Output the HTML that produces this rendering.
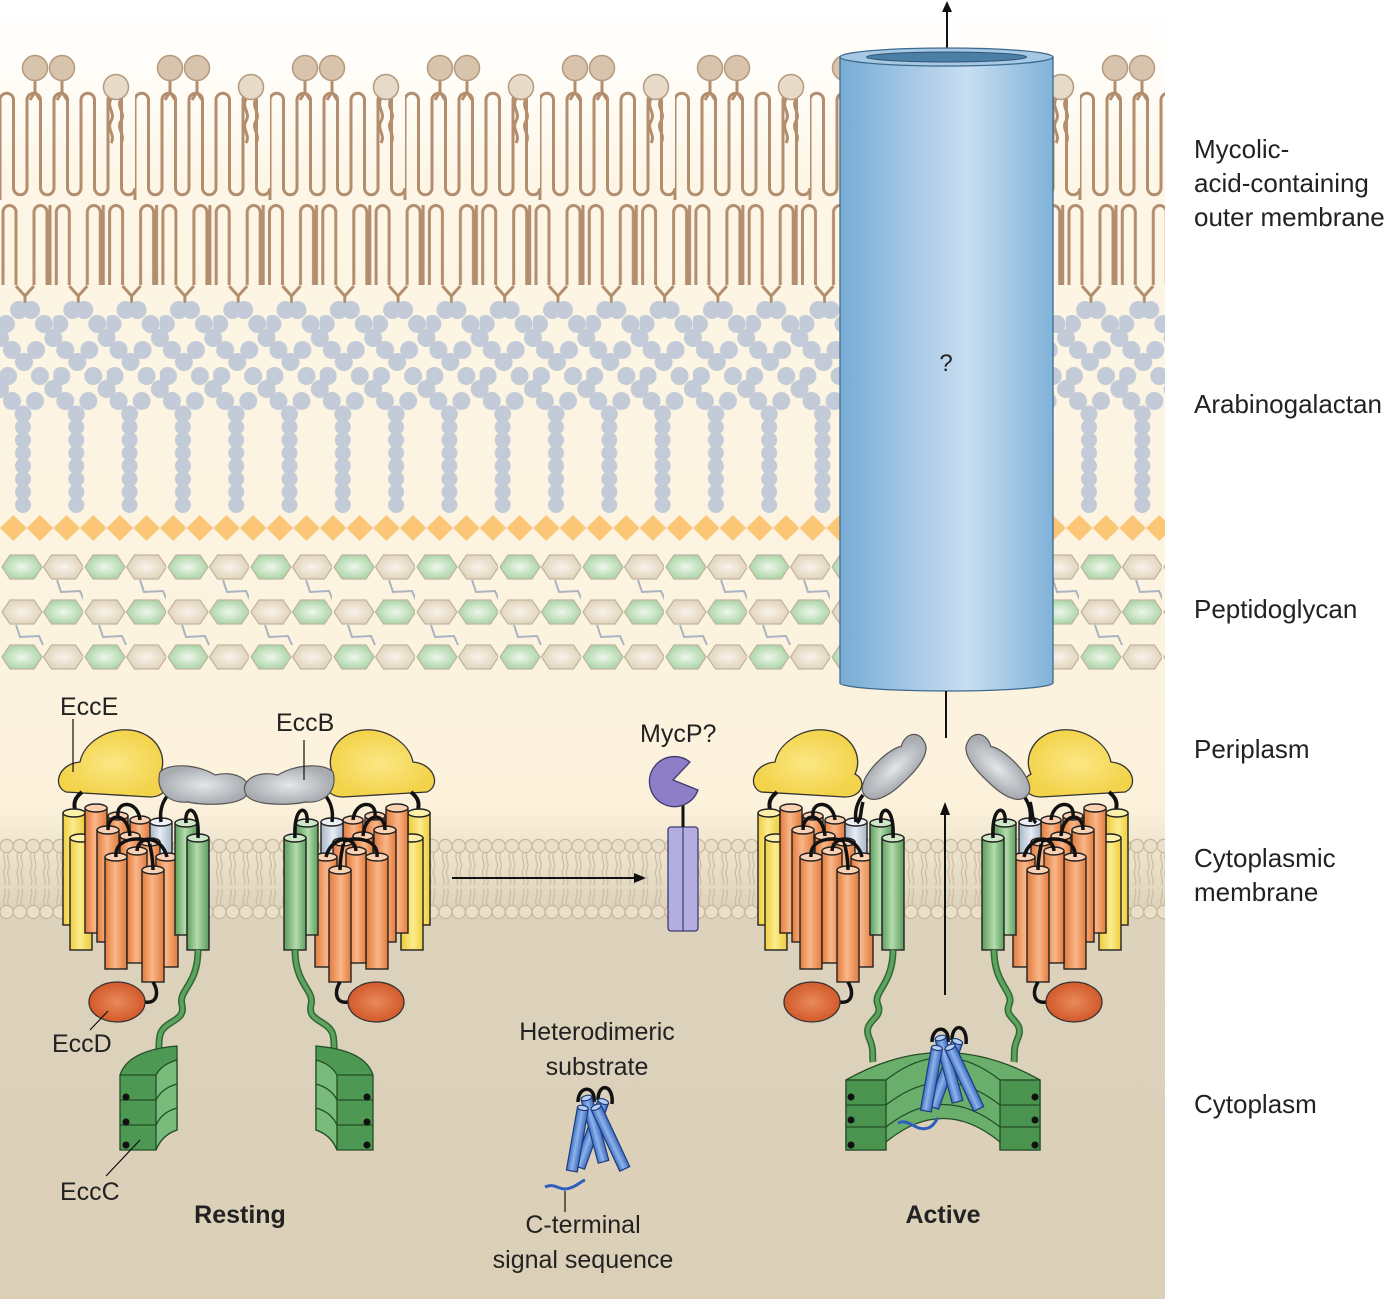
<!DOCTYPE html>
<html><head><meta charset="utf-8"><style>
html,body{margin:0;padding:0;background:#fff;}
svg{display:block;}
text{font-family:"Liberation Sans",sans-serif;}
</style></head><body>
<svg width="1395" height="1299" viewBox="0 0 1395 1299" xmlns="http://www.w3.org/2000/svg">
<defs>
<linearGradient id="bg" x1="0" y1="0" x2="0" y2="1">
<stop offset="0" stop-color="#ffffff"/><stop offset="0.06" stop-color="#fffdf8"/><stop offset="0.14" stop-color="#fdf6e6"/>
<stop offset="0.62" stop-color="#fcf2dc"/><stop offset="0.70" stop-color="#ddd2bc"/><stop offset="1" stop-color="#dbcfb7"/></linearGradient>
<linearGradient id="og" x1="0" x2="1"><stop offset="0" stop-color="#e47a3a"/><stop offset="0.45" stop-color="#f9b789"/><stop offset="1" stop-color="#e27b3d"/></linearGradient>
<linearGradient id="yg" x1="0" x2="1"><stop offset="0" stop-color="#efcd3c"/><stop offset="0.45" stop-color="#fcec8e"/><stop offset="1" stop-color="#eccb3a"/></linearGradient>
<linearGradient id="gg" x1="0" x2="1"><stop offset="0" stop-color="#5d9e5e"/><stop offset="0.45" stop-color="#b3dcac"/><stop offset="1" stop-color="#5c9b5c"/></linearGradient>
<linearGradient id="lb" x1="0" x2="1"><stop offset="0" stop-color="#a8b6c6"/><stop offset="0.45" stop-color="#e6edf4"/><stop offset="1" stop-color="#a8b6c6"/></linearGradient>
<linearGradient id="bl" x1="0" x2="1"><stop offset="0" stop-color="#3f6fc4"/><stop offset="0.45" stop-color="#8fb3ea"/><stop offset="1" stop-color="#3c6bbf"/></linearGradient>
<linearGradient id="cyl" x1="0" x2="1"><stop offset="0" stop-color="#78acd5"/><stop offset="0.6" stop-color="#c8def1"/><stop offset="1" stop-color="#80b2d9"/></linearGradient>
<radialGradient id="yr"><stop offset="0" stop-color="#fbe784"/><stop offset="1" stop-color="#f3d34a"/></radialGradient>
<radialGradient id="gr"><stop offset="0" stop-color="#e4e6e9"/><stop offset="1" stop-color="#a8acb1"/></radialGradient>
<radialGradient id="er"><stop offset="0" stop-color="#e98a5c"/><stop offset="1" stop-color="#d25a2a"/></radialGradient>
<radialGradient id="hg"><stop offset="0" stop-color="#eef7ec"/><stop offset="1" stop-color="#aed6a8"/></radialGradient>
<radialGradient id="hb"><stop offset="0" stop-color="#f8f3ea"/><stop offset="1" stop-color="#e3d5bd"/></radialGradient>

<pattern id="om1" patternUnits="userSpaceOnUse" x="0" y="0" width="135" height="1299">
<path d="M0,200 V100 a6.75,6.75 0 0 1 13.5,0 V188 a6.75,6.75 0 0 0 13.5,0 V100 a6.75,6.75 0 0 1 13.5,0 V188 a6.75,6.75 0 0 0 13.5,0 V100 a6.75,6.75 0 0 1 13.5,0 V188 a6.75,6.75 0 0 0 13.5,0 V100 a6.75,6.75 0 0 1 13.5,0 V188 a6.75,6.75 0 0 0 13.5,0 V100 a6.75,6.75 0 0 1 13.5,0 V188 a6.75,6.75 0 0 0 13.5,0 V200" fill="none" stroke="#b38e6e" stroke-width="3"/>
<path d="M35,80 V92 M62,80 V92 M30,100 L35,92 L40,100 M57,100 L62,92 L67,100" fill="none" stroke="#b38e6e" stroke-width="3"/>
<path d="M111,99 c-5,8 5,14 0,22 c-5,8 5,14 0,22 M121,99 c-5,8 5,14 0,22 c-5,8 5,14 0,22" fill="none" stroke="#b38e6e" stroke-width="3"/>
<circle cx="35" cy="68" r="12.5" fill="#d8c3ac" stroke="#b59a7e" stroke-width="1.5"/>
<circle cx="62" cy="68" r="12.5" fill="#d8c3ac" stroke="#b59a7e" stroke-width="1.5"/>
<circle cx="116" cy="87" r="12.5" fill="#e7dac9" stroke="#b59a7e" stroke-width="1.5"/>
</pattern>
<pattern id="om2" patternUnits="userSpaceOnUse" x="0" y="0" width="53.3" height="1299">
<path d="M3,285 V212 a6.5,6.5 0 0 1 13,0 V285 M34,285 V212 a6.5,6.5 0 0 1 13,0 V285 M16,286 L25,296 L34,286 M25,296 V306 M50,205 V285" fill="none" stroke="#b38e6e" stroke-width="3"/>
</pattern>
<pattern id="ag" patternUnits="userSpaceOnUse" x="0" y="0" width="53.3" height="1299">
<g fill="#c3cbd8">
<circle cx="19" cy="310" r="9"/><circle cx="31" cy="310" r="9"/>
<circle cx="6" cy="324" r="9"/><circle cx="44" cy="324" r="9"/>
<circle cx="0" cy="338" r="9"/><circle cx="53.3" cy="338" r="9"/>
<circle cx="12" cy="350" r="9"/><circle cx="36" cy="350" r="9"/>
<circle cx="24" cy="362" r="9"/>
<circle cx="8" cy="376" r="9"/><circle cx="40" cy="376" r="9"/>
<circle cx="0" cy="389" r="9"/><circle cx="53.3" cy="389" r="9"/>
<circle cx="12" cy="401" r="9"/><circle cx="35" cy="401" r="9"/>
<circle cx="23" cy="414" r="8.5"/><circle cx="23" cy="427" r="8"/><circle cx="23" cy="440" r="8"/><circle cx="23" cy="453" r="8"/>
<circle cx="23" cy="466" r="8"/><circle cx="23" cy="479" r="8"/><circle cx="23" cy="492" r="8"/><circle cx="23" cy="505" r="8"/>
</g>
</pattern>
<pattern id="dm" patternUnits="userSpaceOnUse" x="0" y="0" width="26.65" height="1299">
<polygon points="13.3,515 26.65,528 13.3,541 0,528" fill="#fbc777"/>
</pattern>
<pattern id="pg" patternUnits="userSpaceOnUse" x="0" y="0" width="83" height="1299">
<g stroke="#a9b3c2" stroke-width="2" fill="none">
<path d="M57,580 L61,592 L80,591 L84,600"/><path d="M16,625 L20,637 L39,636 L43,645"/>
</g>
<g stroke="#bdb4a3" stroke-width="1.2">
<polygon points="2,567 10,555 34,555 42,567 34,579 10,579" fill="url(#hg)"/>
<polygon points="43.5,567 51.5,555 75.5,555 83.5,567 75.5,579 51.5,579" fill="url(#hb)"/>
<polygon points="2,612 10,600 34,600 42,612 34,624 10,624" fill="url(#hb)"/>
<polygon points="43.5,612 51.5,600 75.5,600 83.5,612 75.5,624 51.5,624" fill="url(#hg)"/>
<polygon points="2,657 10,645 34,645 42,657 34,669 10,669" fill="url(#hg)"/>
<polygon points="43.5,657 51.5,645 75.5,645 83.5,657 75.5,669 51.5,669" fill="url(#hb)"/>
</g>
</pattern>
<pattern id="cm" patternUnits="userSpaceOnUse" x="0" y="0" width="13.3" height="1299">
<path d="M4.5,853 c-3,6 3,10 0,16 c-3,6 3,10 0,16 M8.5,853 c-3,6 3,10 0,16 c-3,6 3,10 0,16 M4.5,905 c-3,-6 3,-10 0,-16 M8.5,905 c-3,-6 3,-10 0,-16" fill="none" stroke="#cbbb9e" stroke-width="1.2"/>
<circle cx="6.6" cy="846" r="6.6" fill="#e9dfcb" stroke="#c8b898" stroke-width="1.2"/>
<circle cx="6.6" cy="912" r="6.6" fill="#e9dfcb" stroke="#c8b898" stroke-width="1.2"/>
</pattern>

<g id="cx">
<path d="M66,792 C52,786 58,764 80,762 C84,742 108,728 130,730 C158,733 168,758 160,774 C172,780 168,797 150,797 Z" fill="url(#yr)" stroke="#333" stroke-width="1.3"/>
<path d="M76,813 C72,802 76,797 82,792" fill="none" stroke="#111" stroke-width="4"/>
<g stroke="#222" stroke-width="1.4">
<rect x="63" y="813" width="22" height="112" fill="url(#yg)"/><ellipse cx="74" cy="813" rx="11" ry="4" fill="#fdf0a8"/>
<rect x="70" y="838" width="22" height="112" fill="url(#yg)"/><ellipse cx="81" cy="838" rx="11" ry="4" fill="#fdf0a8"/>
<rect x="85" y="808" width="22" height="125" fill="url(#og)"/><ellipse cx="96" cy="808" rx="11" ry="4" fill="#fbd1b4"/>
<rect x="108" y="816" width="20" height="112" fill="url(#og)"/><ellipse cx="118" cy="816" rx="10" ry="4" fill="#fbd1b4"/>
<rect x="130" y="820" width="20" height="110" fill="url(#og)"/><ellipse cx="140" cy="820" rx="10" ry="4" fill="#fbd1b4"/>
<rect x="97" y="830" width="22" height="112" fill="url(#og)"/><ellipse cx="108" cy="830" rx="11" ry="4" fill="#fbd1b4"/>
<rect x="150" y="822" width="22" height="70" fill="url(#lb)"/><ellipse cx="161" cy="822" rx="11" ry="4" fill="#eef2f6"/>
<rect x="120" y="836" width="20" height="110" fill="url(#og)"/><ellipse cx="130" cy="836" rx="10" ry="4" fill="#fbd1b4"/>
<rect x="140" y="842" width="20" height="110" fill="url(#og)"/><ellipse cx="150" cy="842" rx="10" ry="4" fill="#fbd1b4"/>
<rect x="105" y="857" width="22" height="112" fill="url(#og)"/><ellipse cx="116" cy="857" rx="11" ry="4" fill="#fbd1b4"/>
<rect x="127" y="851" width="20" height="112" fill="url(#og)"/><ellipse cx="137" cy="851" rx="10" ry="4" fill="#fbd1b4"/>
<rect x="156" y="857" width="22" height="110" fill="url(#og)"/><ellipse cx="167" cy="857" rx="11" ry="4" fill="#fbd1b4"/>
<rect x="142" y="870" width="22" height="112" fill="url(#og)"/><ellipse cx="153" cy="870" rx="11" ry="4" fill="#fbd1b4"/>
<rect x="175" y="823" width="22" height="112" fill="url(#gg)"/><ellipse cx="186" cy="823" rx="11" ry="4" fill="#cfe8c8"/>
<rect x="187" y="838" width="22" height="112" fill="url(#gg)"/><ellipse cx="198" cy="838" rx="11" ry="4" fill="#cfe8c8"/>
</g>
<g fill="none" stroke="#111" stroke-width="3.5">
<path d="M118,816 C116,800 138,800 140,820"/>
<path d="M108,830 C108,812 128,812 130,836"/>
<path d="M116,857 C114,838 140,836 150,842"/>
<path d="M137,851 C138,834 162,836 167,857"/>
<path d="M153,870 C153,852 148,842 150,842"/>
<path d="M186,823 C184,804 200,804 198,838"/>
<path d="M161,822 C159,808 164,800 168,795"/>
<path d="M153,982 C160,994 156,1004 145,1002"/>
</g>
<ellipse cx="117" cy="1002" rx="28" ry="20" fill="url(#er)" stroke="#333" stroke-width="1.3"/>
</g>

<g id="eccc">
<path d="M198,950 C198,985 178,990 182,1005 C186,1022 164,1020 160,1035 C158,1045 160,1050 157,1058" fill="none" stroke="#2f6a33" stroke-width="7"/>
<path d="M198,950 C198,985 178,990 182,1005 C186,1022 164,1020 160,1035 C158,1045 160,1050 157,1058" fill="none" stroke="#5da35f" stroke-width="4"/>
<path d="M120,1150 V1075 Q128,1050 177,1046 V1130 Q162,1135 156,1150 Z" fill="#4d9853" stroke="#234d27" stroke-width="1.3"/>
<path d="M156,1075 Q162,1064 177,1060 V1130 Q162,1135 156,1150 Z" fill="#78bb7a" stroke="#234d27" stroke-width="1.3"/>
<path d="M120,1075 H156 M120,1100 H156 Q162,1088 177,1084 M120,1125 H156 Q162,1112 177,1108" fill="none" stroke="#234d27" stroke-width="1.3"/>
<circle cx="126" cy="1097" r="3.5" fill="#111"/><circle cx="126" cy="1122" r="3.5" fill="#111"/><circle cx="126" cy="1145" r="3.5" fill="#111"/>
</g>

<g id="sub">
<g stroke="#1d3d7a" stroke-width="1.2">
<path d="M-14,-38 C-14,-55 4,-55 2,-38" fill="none" stroke="#111" stroke-width="3.5"/>
<path d="M6,-40 C6,-58 22,-56 20,-36" fill="none" stroke="#111" stroke-width="3.5"/>
<g transform="rotate(20)"><rect x="-8" y="-40" width="11" height="70" fill="url(#bl)"/><ellipse cx="-2.5" cy="-40" rx="5.5" ry="2.5" fill="#b8cff2"/></g>
<g transform="rotate(-15)"><rect x="0" y="-42" width="11" height="66" fill="url(#bl)"/><ellipse cx="5.5" cy="-42" rx="5.5" ry="2.5" fill="#b8cff2"/></g>
<g transform="rotate(10)"><rect x="-20" y="-30" width="11" height="64" fill="url(#bl)"/><ellipse cx="-14.5" cy="-30" rx="5.5" ry="2.5" fill="#b8cff2"/></g>
<g transform="rotate(-25)"><rect x="12" y="-28" width="11" height="68" fill="url(#bl)"/><ellipse cx="17.5" cy="-28" rx="5.5" ry="2.5" fill="#b8cff2"/></g>
</g>
</g>
</defs>

<rect x="0" y="0" width="1165" height="1299" fill="url(#bg)"/>
<rect x="0" y="40" width="1165" height="265" fill="url(#om1)"/>
<rect x="0" y="200" width="1165" height="110" fill="url(#om2)"/>
<rect x="0" y="298" width="1165" height="218" fill="url(#ag)"/>
<rect x="0" y="514" width="1165" height="28" fill="url(#dm)"/>
<rect x="0" y="545" width="1165" height="130" fill="url(#pg)"/>
<rect x="0" y="837" width="1165" height="84" fill="url(#cm)"/>

<line x1="947" y1="52" x2="947" y2="8" stroke="#111" stroke-width="2"/>
<polygon points="947,1 942,12 952,12" fill="#111"/>
<path d="M840,57 V683 A106.5,8 0 0 0 1053,683 V57 Z" fill="url(#cyl)" stroke="#3f6a8c" stroke-width="1.3"/>
<ellipse cx="946.5" cy="57" rx="106.5" ry="9" fill="#a5c8e4" stroke="#3f6a8c" stroke-width="1.3"/>
<ellipse cx="946.5" cy="57" rx="80" ry="5" fill="#4c7fa6" stroke="#2f5575" stroke-width="1"/>
<text x="946" y="371" font-size="24" text-anchor="middle" fill="#222">?</text>
<line x1="946" y1="691" x2="946" y2="738" stroke="#111" stroke-width="2"/>

<use href="#cx"/>
<use href="#cx" transform="translate(493,0) scale(-1,1)"/>
<use href="#eccc"/>
<use href="#eccc" transform="translate(493,0) scale(-1,1)"/>
<path d="M160,772 C170,762 200,765 215,775 C235,770 252,780 248,792 C245,806 205,806 188,802 C168,804 155,790 160,772 Z" fill="url(#gr)" stroke="#555" stroke-width="1.2"/>
<path d="M333,772 C323,762 293,765 278,775 C258,770 241,780 245,792 C248,806 288,806 305,802 C325,804 338,790 333,772 Z" fill="url(#gr)" stroke="#555" stroke-width="1.2"/>

<rect x="668" y="827" width="30" height="104" rx="3" fill="#b3ade0" stroke="#3e3a70" stroke-width="1.3"/>
<line x1="683" y1="827" x2="683" y2="931" stroke="#3e3a70" stroke-width="1.2"/>
<line x1="683" y1="805" x2="683" y2="827" stroke="#111" stroke-width="3"/>
<path d="M690,762 A25,25 0 1 0 698,790 L673,780 Z" fill="#8d7ec7" stroke="#3e3a70" stroke-width="1.3"/>

<line x1="452" y1="878" x2="636" y2="878" stroke="#111" stroke-width="2"/>
<polygon points="646,878 634,873 634,883" fill="#111"/>

<use href="#cx" transform="translate(695,0)"/>
<use href="#cx" transform="translate(1191,0) scale(-1,1)"/>
<g transform="translate(893,770) rotate(-42)"><path d="M-38,0 C-38,-18 10,-20 22,-12 C34,-20 46,-12 42,0 C40,12 20,16 0,16 C-22,17 -38,12 -38,0 Z" fill="url(#gr)" stroke="#555" stroke-width="1.2"/></g>
<g transform="translate(999,770) rotate(42)"><path d="M38,0 C38,-18 -10,-20 -22,-12 C-34,-20 -46,-12 -42,0 C-40,12 -20,16 0,16 C22,17 38,12 38,0 Z" fill="url(#gr)" stroke="#555" stroke-width="1.2"/></g>
<path d="M863,802 C860,812 862,818 857,823" fill="none" stroke="#111" stroke-width="3.5"/>
<path d="M1030,802 C1033,812 1031,818 1036,823" fill="none" stroke="#111" stroke-width="3.5"/>
<g fill="none">
<path d="M893,950 C893,985 872,992 878,1005 C884,1020 860,1020 870,1040 C874,1050 872,1055 873,1062" stroke="#2f6a33" stroke-width="7"/>
<path d="M893,950 C893,985 872,992 878,1005 C884,1020 860,1020 870,1040 C874,1050 872,1055 873,1062" stroke="#5da35f" stroke-width="4"/>
<path d="M994,950 C994,985 1015,992 1009,1005 C1003,1020 1027,1020 1017,1040 C1013,1050 1015,1055 1014,1062" stroke="#2f6a33" stroke-width="7"/>
<path d="M994,950 C994,985 1015,992 1009,1005 C1003,1020 1027,1020 1017,1040 C1013,1050 1015,1055 1014,1062" stroke="#5da35f" stroke-width="4"/>
</g>
<path d="M846,1150 V1080 Q943,1025 1040,1080 V1150 H1000 V1142 Q943,1095 886,1142 V1150 Z" fill="#6aae6c" stroke="#234d27" stroke-width="1.3"/>
<path d="M846,1150 V1080 H886 V1150 Z M1000,1150 V1080 H1040 V1150 Z" fill="#4a9450" stroke="#234d27" stroke-width="1.3"/>
<path d="M846,1080 H886 Q943,1035 1000,1080 H1040 M846,1105 H886 Q943,1060 1000,1105 H1040 M846,1127 H886 Q943,1082 1000,1127 H1040" fill="none" stroke="#234d27" stroke-width="1.3"/>
<circle cx="851" cy="1097" r="3.5" fill="#111"/><circle cx="851" cy="1120" r="3.5" fill="#111"/><circle cx="851" cy="1145" r="3.5" fill="#111"/>
<circle cx="1035" cy="1097" r="3.5" fill="#111"/><circle cx="1035" cy="1120" r="3.5" fill="#111"/><circle cx="1035" cy="1145" r="3.5" fill="#111"/>
<use href="#sub" transform="translate(946,1080)"/>
<path d="M898,1123 C910,1118 915,1132 928,1128 C934,1126 936,1120 938,1118" fill="none" stroke="#2e5fbe" stroke-width="3"/>
<line x1="945" y1="995" x2="945" y2="814" stroke="#111" stroke-width="2"/>
<polygon points="945,802 940,815 950,815" fill="#111"/>

<use href="#sub" transform="translate(592,1140)"/>
<path d="M545,1187 C555,1182 560,1192 570,1188 C577,1186 580,1182 585,1180" fill="none" stroke="#2e5fbe" stroke-width="3"/>
<line x1="565" y1="1191" x2="565" y2="1212" stroke="#111" stroke-width="1.2"/>

<g stroke="#111" stroke-width="1.2">
<line x1="73" y1="719" x2="73" y2="772"/>
<line x1="304" y1="740" x2="304" y2="780"/>
<line x1="90" y1="1030" x2="108" y2="1011"/>
<line x1="106" y1="1176" x2="140" y2="1140"/>
</g>

<g font-size="25" fill="#222">
<text x="60" y="715">EccE</text>
<text x="276" y="731">EccB</text>
<text x="52" y="1052">EccD</text>
<text x="60" y="1200">EccC</text>
<text x="640" y="742">MycP?</text>
<text x="597" y="1040" text-anchor="middle">Heterodimeric</text>
<text x="597" y="1075" text-anchor="middle">substrate</text>
<text x="583" y="1233" text-anchor="middle">C-terminal</text>
<text x="583" y="1268" text-anchor="middle">signal sequence</text>
<text x="240" y="1223" text-anchor="middle" font-weight="bold">Resting</text>
<text x="943" y="1223" text-anchor="middle" font-weight="bold">Active</text>
</g>
<g font-size="26" fill="#222">
<text x="1194" y="158">Mycolic-</text>
<text x="1194" y="192">acid-containing</text>
<text x="1194" y="226">outer membrane</text>
<text x="1194" y="413">Arabinogalactan</text>
<text x="1194" y="618">Peptidoglycan</text>
<text x="1194" y="758">Periplasm</text>
<text x="1194" y="867">Cytoplasmic</text>
<text x="1194" y="901">membrane</text>
<text x="1194" y="1113">Cytoplasm</text>
</g>
</svg>
</body></html>
